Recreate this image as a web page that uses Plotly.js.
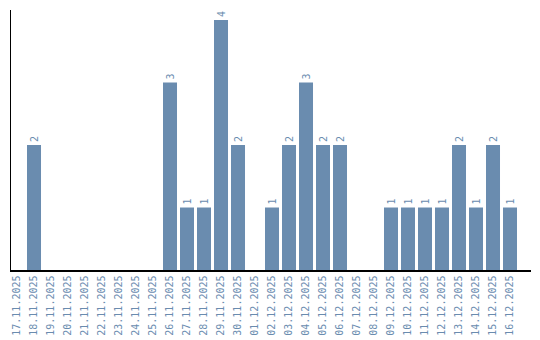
<!DOCTYPE html>
<html><head><meta charset="utf-8">
<script src="https://cdn.plot.ly/plotly-3.0.1.min.js"></script>
<style>html,body{margin:0;padding:0;background:#fff}#c{width:540px;height:340px}</style>
</head><body><div id="c"></div>
<script>
const categories = ["17.11.2025","18.11.2025","19.11.2025","20.11.2025","21.11.2025","22.11.2025","23.11.2025","24.11.2025","25.11.2025","26.11.2025","27.11.2025","28.11.2025","29.11.2025","30.11.2025","01.12.2025","02.12.2025","03.12.2025","04.12.2025","05.12.2025","06.12.2025","07.12.2025","08.12.2025","09.12.2025","10.12.2025","11.12.2025","12.12.2025","13.12.2025","14.12.2025","15.12.2025","16.12.2025"];
const values = [0,2,0,0,0,0,0,0,0,3,1,1,4,2,0,1,2,3,2,2,0,0,1,1,1,1,2,1,2,1];
const labels = values.map(v => v > 0 ? String(v) : "");
const col = "#6a8caf";
Plotly.newPlot("c", [{
  type: "bar", x: categories, y: values, text: labels,
  textposition: "outside", textangle: -90, cliponaxis: false,
  textfont: {family: "DejaVu Sans Mono", size: 10, color: col},
  marker: {color: col}, hoverinfo: "none"
}], {
  width: 540, height: 340,
  margin: {l: 11, r: 9, t: 10, b: 70, pad: 0},
  paper_bgcolor: "#fff", plot_bgcolor: "#fff",
  bargap: 0.176, showlegend: false,
  xaxis: {type: "category", range: [-0.353, 30.235], tickangle: -90, showgrid: false, zeroline: false,
    showline: true, linecolor: "#000", linewidth: 1.5, ticks: "",
    tickfont: {family: "DejaVu Sans Mono", size: 10, color: col}},
  yaxis: {range: [0, 4.16], showgrid: false, zeroline: false, showticklabels: false,
    showline: true, linecolor: "#000", linewidth: 1.5, ticks: ""}
}, {displayModeBar: false, staticPlot: true});
</script></body></html>
